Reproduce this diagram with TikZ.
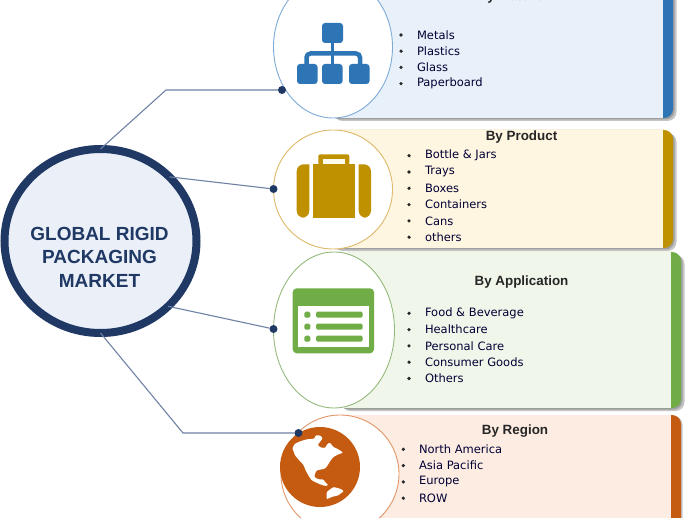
\documentclass[tikz,border=0pt]{standalone}
\usepackage{fontspec}
\setmainfont{DejaVu Sans}
\newfontfamily\headfont{Liberation Sans}
\usetikzlibrary{shapes.geometric}
\definecolor{marketblue}{RGB}{31,56,100}
\definecolor{marketfill}{RGB}{234,239,248}
\definecolor{linkblue}  {RGB}{112,130,165}
\definecolor{matblue}   {RGB}{46,117,182}
\definecolor{matfill}   {RGB}{232,241,250}
\definecolor{matring}   {RGB}{125,170,215}
\definecolor{prodgold}  {RGB}{191,144,0}
\definecolor{prodfill}  {RGB}{255,246,226}
\definecolor{prodring}  {RGB}{222,185,105}
\definecolor{appgreen}  {RGB}{112,173,71}
\definecolor{appfill}   {RGB}{240,247,234}
\definecolor{appring}   {RGB}{150,185,125}
\definecolor{regorange} {RGB}{197,90,17}
\definecolor{regfill}   {RGB}{252,236,226}
\definecolor{regring}   {RGB}{225,150,105}
\definecolor{shadowgray}{RGB}{90,90,90}

\begin{document}
\begin{tikzpicture}[x=1pt,y=-1pt,
  every node/.style={inner sep=0pt,outer sep=0pt},
  band/.style={rectangle,rounded corners=9pt,minimum width=343pt},
  backing/.style={band,fill=shadowgray,opacity=.35},
  face/.style={rectangle,minimum width=332pt},
  ring/.style={ellipse,fill=white,line width=.9pt},
  hub/.style={ellipse,draw=marketblue,line width=8pt,fill=marketfill,
              minimum width=192pt,minimum height=184pt},
  hubtext/.style={align=center,text=marketblue,
              font=\headfont\bfseries\fontsize{19}{23.5}\selectfont},
  link/.style={draw=linkblue,line width=1.1pt},
  pin/.style={circle,fill=marketblue,minimum size=8pt},
  head/.style={font=\headfont\bfseries\fontsize{13.4}{16}\selectfont,text=black!85},
  entry/.style={anchor=west,font=\fontsize{11.5}{13}\selectfont,text=black!80!blue},
  dotmark/.style={circle,fill=black!85,minimum size=3.6pt},
]
\clip (0,0) rectangle (690,518);
\fill[white] (0,0) rectangle (690,518);

%% -- Material panel ---------------------------------------------------
\node[backing,minimum height=148pt] (matshadeb) at (505,47) {};
\node[backing,minimum height=148pt] (matshade) at (503,45.5) {};
\node[band,fill=matblue,minimum height=148pt] (matband) at (501.5,44) {};
\node[face,fill=matfill,minimum height=148pt] (matface) at (496.5,44) {};
\node[ring,draw=matring,minimum width=119pt,minimum height=142pt] (matring) at (333,47) {};

%% -- Product panel ----------------------------------------------------
\node[backing,minimum height=118pt] (prodshadeb) at (505,192) {};
\node[backing,minimum height=118pt] (prodshade) at (503,190.5) {};
\node[band,fill=prodgold,minimum height=118pt] (prodband) at (501.5,189) {};
\node[face,fill=prodfill,minimum height=118pt] (prodface) at (496.5,189) {};
\node[ring,draw=prodring,minimum width=119pt,minimum height=119pt] (prodring) at (333,189.5) {};

%% -- Application panel ------------------------------------------------
\node[backing,minimum height=156pt] (appshadeb) at (513,333) {};
\node[backing,minimum height=156pt] (appshade) at (511,331.5) {};
\node[band,fill=appgreen,minimum height=156pt] (appband) at (509.5,330) {};
\node[face,fill=appfill,minimum height=156pt] (appface) at (504.5,330) {};
\node[ring,draw=appring,minimum width=121pt,minimum height=156pt] (appring) at (334,330) {};

%% -- Region panel -----------------------------------------------------
\node[backing,minimum height=148pt] (regshade) at (511,490) {};
\node[band,fill=regorange,minimum height=148pt] (regband) at (509.5,489) {};
\node[face,fill=regfill,minimum height=148pt] (regface) at (504.5,489) {};
\node[ring,draw=regring,minimum width=118pt,minimum height=118pt] (regring) at (340,474) {};

%% -- Hub --------------------------------------------------------------
\node[hub] (market) at (100.5,241) {};
\node[hubtext] (markettext) at (99.5,257) {GLOBAL RIGID\\PACKAGING\\MARKET};

%% -- Titles -----------------------------------------------------------
\node[head] (mattitle) at (513.5,-2.5) {By Material};
\node[head] (prodtitle) at (521.5,137.5) {By Product};
\node[head] (apptitle) at (521.5,282) {By Application};
\node[head] (regtitle) at (515,431.5) {By Region};

%% -- Lists ------------------------------------------------------------
\foreach \txt [count=\i] in {Metals,Plastics,Glass,Paperboard} {
  \node[dotmark] (matdot\i) at (401,{35+16.2*(\i-1)}) {};
  \node[entry] (matitem\i) at (417,{35+16.2*(\i-1)}) {\txt};
}
\foreach \txt [count=\i] in {Bottle \& Jars,Trays,Boxes,Containers,Cans,others} {
  \node[dotmark] (proddot\i) at (409,{155.7+16.3*(\i-1)}) {};
  \node[entry] (proditem\i) at (425,{155.7+16.3*(\i-1)}) {\txt};
}
\foreach \txt [count=\i] in {Food \& Beverage,Healthcare,Personal Care,Consumer Goods,Others} {
  \node[dotmark] (appdot\i) at (409,{313.3+16.3*(\i-1)}) {};
  \node[entry] (appitem\i) at (425,{313.3+16.3*(\i-1)}) {\txt};
}
\foreach \txt [count=\i] in {North America,Asia Pacific,Europe,ROW} {
  \node[dotmark] (regdot\i) at (403.3,{449.3+16.3*(\i-1)}) {};
  \node[entry] (regitem\i) at (419,{449.3+16.3*(\i-1)}) {\txt};
}

%% -- Org chart icon ---------------------------------------------------
\fill[matblue,rounded corners=3pt] (322,23) rectangle (343,43);
\foreach \xa in {297,322,349}
  \fill[matblue,rounded corners=3pt] (\xa,64) rectangle ++(20.5,20);
\draw[matblue,line width=4.5pt,rounded corners=4pt] (306.5,65) -- (306.5,53.5) -- (360,53.5) -- (360,65);
\draw[matblue,line width=3.5pt] (332.5,43) -- (332.5,64);

%% -- Suitcase icon ----------------------------------------------------
\fill[prodgold] (312.7,164.3) rectangle (355,217.7);
\fill[prodgold,rounded corners=7pt] (309.3,164.3) -- (296.7,164.3) -- (296.7,217.7) -- (309.3,217.7) [sharp corners] -- cycle;
\fill[prodgold,rounded corners=7pt] (358.7,164.3) -- (371,164.3) -- (371,217.7) -- (358.7,217.7) [sharp corners] -- cycle;
\fill[prodgold,rounded corners=2pt] (318.3,165) -- (318.3,154.3) -- (349.3,154.3) -- (349.3,165) -- cycle;
\fill[prodfill!60!white] (323.3,159.3) rectangle (344.7,164.3);

%% -- Form icon --------------------------------------------------------
\fill[appgreen,rounded corners=4pt] (292.7,288.3) rectangle (374,353.3);
\fill[white] (298.3,305.7) rectangle (368.7,347.3);
\foreach \ya in {311.7,323.7,335.7} {
  \fill[appgreen,rounded corners=1.5pt] (304.3,\ya) rectangle ++(6,6);
  \fill[appgreen,rounded corners=1.5pt] (316,\ya) rectangle ++(46.7,6);
}

%% -- Globe icon -------------------------------------------------------
\node[circle,fill=regorange,minimum size=80pt] (globe) at (320,467) {};
\begin{scope}[shift={(275,422)},x=.3333pt,y=-.3333pt]
  \fill[white,rounded corners=1pt] (52,78) -- (60,65) -- (75,58) -- (95,52) -- (118,50) -- (122,40)
    -- (135,40) -- (143,48) -- (135,60) -- (128,68) -- (135,76) -- (150,78) -- (158,65) -- (165,62)
    -- (175,75) -- (190,82) -- (205,92) -- (190,97) -- (175,105) -- (165,118) -- (158,130) -- (150,140)
    -- (140,142) -- (125,145) -- (120,155) -- (118,165) -- (130,172) -- (145,172) -- (150,180)
    -- (160,190) -- (150,192) -- (135,187) -- (110,175) -- (100,160) -- (92,145) -- (85,128)
    -- (70,112) -- (60,100) -- cycle;
  \fill[white,rounded corners=1pt] (155,210) -- (175,195) -- (195,200) -- (207,207) -- (190,220)
    -- (170,225) -- (155,232) -- cycle;
\end{scope}

%% -- Connectors -------------------------------------------------------
\coordinate (matbend) at (166,90);
\coordinate (regbend) at (183,433);
\node[pin] (matpin) at (282,90) {};
\node[pin] (prodpin) at (273.5,189) {};
\node[pin] (apppin) at (273.5,329) {};
\node[pin] (regpin) at (298.5,433) {};
\draw[link] (market.north) -- (matbend) -- (matpin);
\draw[link] (market.43) -- (prodpin);
\draw[link] (market.-44) -- (apppin);
\draw[link] (market.south) -- (regbend) -- (regpin);
\end{tikzpicture}
\end{document}
